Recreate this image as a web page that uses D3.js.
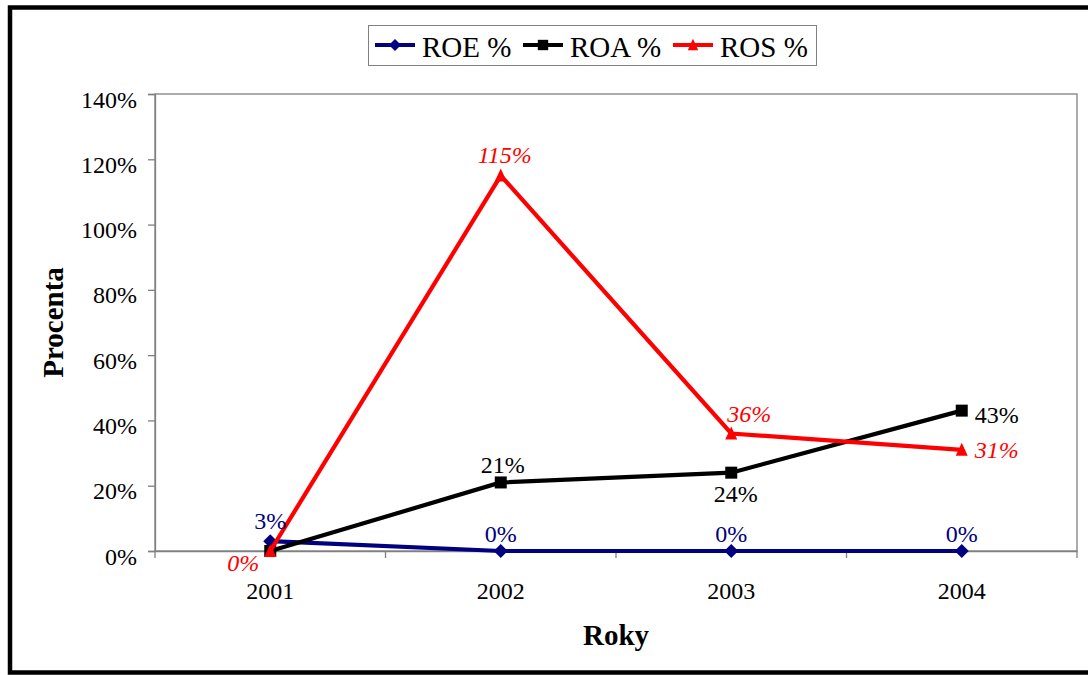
<!DOCTYPE html>
<html><head><meta charset="utf-8">
<script src="https://cdn.jsdelivr.net/npm/d3@7"></script>
<style>body{margin:0;background:#fff}svg{display:block}
svg text{font-family:"Liberation Serif","Times New Roman",Times,serif !important}</style>
</head><body>
<svg id="c" width="1088" height="675"></svg>
<script>
const years = ["2001","2002","2003","2004"];
const roe = [3, 0, 0, 0];
const roa = [0, 21, 24, 43];
const ros = [0, 115, 36, 31];
const yTicks = [0, 20, 40, 60, 80, 100, 120, 140];
const seriesNames = ["ROE %", "ROA %", "ROS %"];

const svg = d3.select("#c");
const L = 155, R = 1077, T = 94, B = 551;

svg.append("rect").attr("x",10).attr("y",7.5).attr("width",1090).attr("height",665)
  .attr("fill","none").attr("stroke","#000").attr("stroke-width",4.5);

const x = d3.scaleBand().domain(years).range([L, R]);
const y = d3.scaleLinear().domain([0, 140]).range([B, T]);

svg.append("rect").attr("x",L).attr("y",T).attr("width",R-L).attr("height",B-T)
  .attr("fill","none").attr("stroke","#808080").attr("stroke-width",1.3);

const ya = svg.append("g").attr("transform",`translate(${L},0)`)
  .call(d3.axisLeft(y).tickValues(yTicks).tickSize(7).tickPadding(11).tickFormat(d=>d+"%"));
ya.select(".domain").attr("stroke","#808080").attr("stroke-width",1.3);
ya.selectAll(".tick line").attr("stroke","#808080").attr("stroke-width",1.3);
ya.selectAll("text").attr("font-size",24).attr("fill","#000").attr("dy",null).attr("y",13);

const xa = svg.append("g").attr("transform",`translate(0,${B})`)
  .call(d3.axisBottom(x).tickSize(0));
xa.select(".domain").attr("stroke","#808080").attr("stroke-width",1.3);
xa.selectAll("text").attr("font-size",24).attr("fill","#000").attr("dy",null).attr("y",48);
const bounds = years.map(d=>x(d)).concat([R]);
svg.append("g").selectAll("line").data(bounds).join("line")
  .attr("x1",d=>d).attr("x2",d=>d).attr("y1",B).attr("y2",B+7).attr("stroke","#808080").attr("stroke-width",1.3);

const cx = d => x(d) + x.bandwidth()/2;

svg.append("text").attr("transform",`translate(63,${(T+B)/2}) rotate(-90)`).attr("text-anchor","middle")
  .attr("font-size",29).attr("font-weight","bold").text("Procenta");
svg.append("text").attr("x",(L+R)/2).attr("y",645).attr("text-anchor","middle")
  .attr("font-size",29).attr("font-weight","bold").text("Roky");

const diamond = {draw(ctx, size){const r=Math.sqrt(size)/2*1.0; ctx.moveTo(0,-r);ctx.lineTo(r,0);ctx.lineTo(0,r);ctx.lineTo(-r,0);ctx.closePath();}};
const square = {draw(ctx, size){const r=Math.sqrt(size)/2; ctx.rect(-r,-r,2*r,2*r);}};
const tri = {draw(ctx, size){const r=Math.sqrt(size)/2; ctx.moveTo(0,-r-1);ctx.lineTo(r,r);ctx.lineTo(-r,r);ctx.closePath();}};

const series = [
  {name:seriesNames[0], vals:roe, color:"#000080", sym:diamond, size:196},
  {name:seriesNames[1], vals:roa, color:"#000000", sym:square, size:144},
  {name:seriesNames[2], vals:ros, color:"#ff0000", sym:tri, size:144}
];
const line = d3.line().x((d,i)=>cx(years[i])).y(d=>y(d));
series.forEach(s=>{
  svg.append("path").attr("d",line(s.vals)).attr("fill","none").attr("stroke",s.color).attr("stroke-width",4.2);
  svg.append("g").selectAll("path").data(s.vals).join("path")
    .attr("transform",(d,i)=>`translate(${cx(years[i])},${y(d)})`)
    .attr("d",d3.symbol().type(s.sym).size(s.size)).attr("fill",s.color);
});

function lab(si, i, dx, dy, anchor, italic){
  const s = series[si];
  svg.append("text").attr("x",cx(years[i])+dx).attr("y",y(s.vals[i])+dy).attr("text-anchor",anchor)
    .attr("font-size",24).attr("fill",s.color)
    .attr("font-style",italic?"italic":"normal").text(s.vals[i]+"%");
}
lab(0,0,0,-12,"middle"); lab(0,1,0,-9,"middle"); lab(0,2,0,-9,"middle"); lab(0,3,0,-9,"middle");
lab(1,1,2,-9.5,"middle"); lab(1,2,4.5,29,"middle"); lab(1,3,13,12,"start");
lab(2,0,-27,20,"middle",true); lab(2,1,4,-12.5,"middle",true); lab(2,2,-4,-11,"start",true); lab(2,3,13,8,"start",true);

const lg = svg.append("g");
lg.append("rect").attr("x",368.5).attr("y",25.5).attr("width",448).attr("height",40)
  .attr("fill","#fff").attr("stroke","#808080").attr("stroke-width",1);
const lx = [375, 523, 673];
series.forEach((s,k)=>{
  lg.append("line").attr("x1",lx[k]).attr("x2",lx[k]+40).attr("y1",45).attr("y2",45).attr("stroke",s.color).attr("stroke-width",4.2);
  lg.append("path").attr("transform",`translate(${lx[k]+20},45)`).attr("d",d3.symbol().type(s.sym).size(s.size*0.75)).attr("fill",s.color);
  lg.append("text").attr("x",lx[k]+47).attr("y",57).attr("font-size",29).text(s.name);
});
</script>
</body></html>
